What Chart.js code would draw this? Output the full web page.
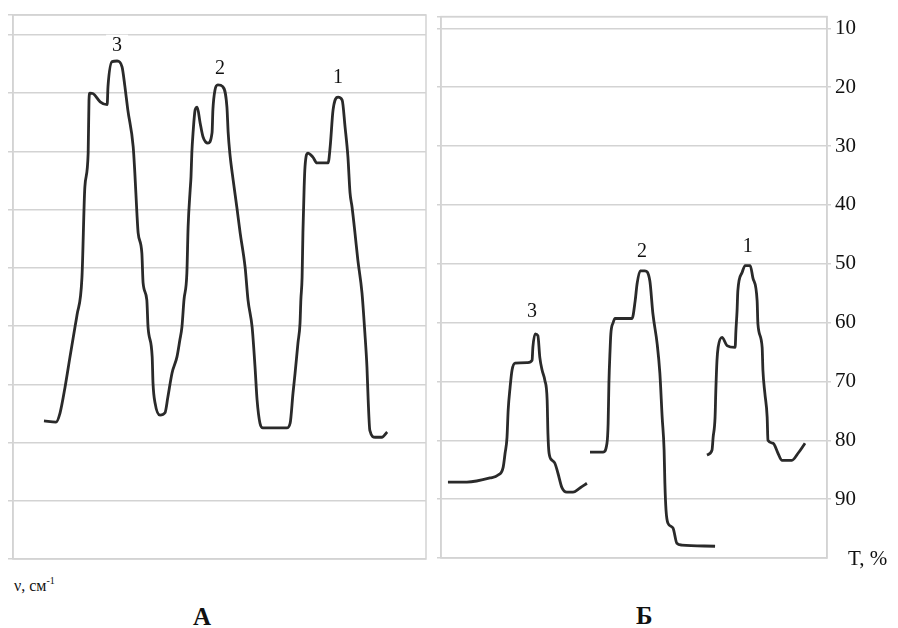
<!DOCTYPE html>
<html>
<head>
<meta charset="utf-8">
<script src="https://cdn.jsdelivr.net/npm/chart.js@4.4.1/dist/chart.umd.min.js"></script>
<style>
  body { margin: 0; background: #fff; width: 898px; height: 628px; position: relative; overflow: hidden;
         font-family: "Liberation Serif", serif; color: #111; }
  #boxA { position: absolute; left: 0; top: 0; width: 432px; height: 575px; }
  #boxB { position: absolute; left: 432px; top: 0; width: 466px; height: 575px; }
  .lbl { position: absolute; white-space: nowrap; line-height: 1; }
  sup { font-size: 10px; vertical-align: 7px; }
</style>
</head>
<body>
<div id="boxA"><canvas id="chartA"></canvas></div>
<div id="boxB"><canvas id="chartB"></canvas></div>
<div class="lbl" style="left:14px;top:576px;font-size:16px;">ν, см<sup>-1</sup></div>
<div class="lbl" style="left:848px;top:548px;font-size:21px;">T, %</div>
<div class="lbl" style="left:193px;top:604px;font-size:25px;font-weight:bold;">А</div>
<div class="lbl" style="left:636px;top:603px;font-size:25px;font-weight:bold;">Б</div>
<script>
// panel A: one continuous trace (wavenumber in arbitrary units, transmittance %)
const nuA = [7.5,10.4,11.4,12.6,13.8,15.0,15.5,16.7,17.4,18.2,18.4,18.6,19.4,21.1,22.8,23.0,24.0,25.2,26.4,27.1,
  27.8,29.1,29.5,30.0,30.3,31.2,31.5,32.4,32.7,33.7,33.9,34.4,35.6,36.8,37.5,38.5,39.7,40.4,40.9,41.4,
  42.1,42.4,42.9,43.1,43.3,43.6,44.1,44.6,45.3,46.0,47.2,48.2,48.4,48.9,49.6,50.8,51.8,52.1,52.5,53.3,
  54.2,55.0,56.2,56.9,57.9,58.6,59.1,59.8,60.5,66.3,67.1,67.8,68.3,69.0,69.5,69.7,70.0,70.2,70.5,70.7,
  71.4,72.6,73.6,76.3,76.8,77.5,78.7,79.7,80.4,81.1,81.6,82.1,82.8,83.5,84.5,85.2,85.7,86.0,86.4,87.7,
  89.3,90.6];
const tA = [76.3,76.5,74.9,70.5,65.3,60.2,58.1,51.6,36.1,30.3,21.2,20.0,20.1,21.5,22.0,18.9,14.6,14.5,15.5,18.9,
  22.9,29.2,33.7,40.6,44.0,47.5,52.6,55.5,60.2,65.3,69.8,73.2,75.3,74.9,72.2,68.1,65.3,62.4,60.2,55.5,
  50.9,43.0,36.6,34.4,30.3,26.8,22.9,22.4,25.1,27.5,28.6,26.8,22.9,19.5,18.6,18.9,22.4,26.8,30.3,34.9,
  39.6,44.0,49.9,55.5,60.2,67.0,72.7,76.7,77.5,77.5,76.7,71.5,68.1,62.9,59.5,55.5,51.6,44.0,36.1,32.7,
  30.3,31.0,32.0,32.0,29.2,22.9,20.7,21.2,25.8,31.0,37.1,39.6,44.0,48.7,54.3,61.2,67.0,72.7,77.9,79.1,
  79.1,78.2];

// panel Б: three separate traces
const nuB3 = [1.8,6.7,12.7,14.8,16.1,16.6,17.1,17.4,17.9,18.4,19.2,22.5,23.6,23.8,24.4,25.1,25.6,26.2,26.9,27.5,
  27.7,28.0,28.8,29.5,30.3,31.3,32.6,34.2,36.0,37.8];
const tB3 = [87.1,87.1,86.4,85.9,84.6,82.2,79.5,74.9,71.0,68.1,66.9,66.8,66.4,64.2,61.9,62.2,65.9,68.1,69.8,73.2,
  78.8,82.2,83.4,83.9,85.6,88.0,88.8,88.8,88.1,87.3];
const nuB2 = [38.6,42.0,43.0,43.3,43.5,43.8,44.0,44.6,45.1,49.5,50.3,50.8,51.6,52.8,54.1,54.9,56.0,56.7,57.3,57.8,
  58.0,58.3,58.8,60.1,61.1,62.4,71.0];
const tB2 = [82.0,82.0,80.5,77.1,70.3,64.7,61.9,60.0,59.3,59.3,56.3,53.4,51.2,51.2,52.9,58.5,63.6,68.6,76.1,81.7,
  87.3,91.9,94.1,94.9,97.5,97.8,98.0];
const nuB1 = [68.9,70.2,70.5,71.0,71.2,71.5,71.8,72.8,74.1,76.2,76.4,76.7,76.9,78.0,78.8,80.1,80.8,81.9,82.1,83.2,
  83.4,83.9,84.5,84.7,86.0,87.3,88.3,90.9,92.5,94.3];
const tB1 = [82.5,81.7,79.5,76.1,71.5,66.4,64.2,62.5,63.9,64.2,61.4,58.0,54.6,51.5,50.3,50.3,52.4,56.3,60.2,64.2,
  68.1,72.0,76.1,80.0,80.5,82.2,83.4,83.4,82.2,80.5];

// peak numbers and where they sit
const peakNames = ['3', '2', '1'];
const peakNuA = [25.2, 50.1, 78.7];
const peakTA = [11.7, 15.7, 17.2];
const peakNuB = [23.6, 52.1, 79.5];
const peakTB = [58.0, 47.8, 46.9];

const tTicks = [10, 20, 30, 40, 50, 60, 70, 80, 90];

const gridColor = '#d3d3d3';
const lineColor = '#2a2a2a';

function pts(xs, ys) {
  return xs.map((x, i) => ({ x: x, y: ys[i] }));
}

function trace(xs, ys) {
  return {
    data: pts(xs, ys),
    borderColor: lineColor,
    borderWidth: 2.8,
    pointRadius: 0,
    cubicInterpolationMode: 'monotone',
    fill: false
  };
}

// light frame round the plot area
const frame = {
  id: 'frame',
  beforeDatasetsDraw(chart) {
    const a = chart.chartArea, ctx = chart.ctx;
    ctx.save();
    ctx.strokeStyle = gridColor;
    ctx.lineWidth = 1.5;
    ctx.strokeRect(a.left, a.top, a.right - a.left, a.bottom - a.top);
    ctx.restore();
  }
};

// numbers over the peaks, with a white patch that breaks the grid line
const peakText = {
  id: 'peakText',
  beforeDatasetsDraw(chart, args, opts) {
    const ctx = chart.ctx, x = chart.scales.x, y = chart.scales.y;
    ctx.save();
    ctx.font = '20px "Liberation Serif"';
    ctx.textAlign = 'center';
    ctx.textBaseline = 'middle';
    opts.names.forEach((n, i) => {
      const px = x.getPixelForValue(opts.nu[i]);
      const py = y.getPixelForValue(opts.t[i]);
      ctx.fillStyle = '#fff';
      ctx.fillRect(px - 11, py - 10, 22, 20);
      ctx.fillStyle = '#111';
      ctx.fillText(n, px, py + 1);
    });
    ctx.restore();
  }
};

new Chart(document.getElementById('chartA'), {
  type: 'line',
  data: { datasets: [trace(nuA, tA)] },
  plugins: [frame, peakText],
  options: {
    responsive: true,
    maintainAspectRatio: false,
    animation: false,
    layout: { padding: { left: 8, top: 15, right: 6, bottom: 16 } },
    plugins: {
      legend: { display: false },
      tooltip: { enabled: false },
      peakText: { names: peakNames, nu: peakNuA, t: peakTA }
    },
    scales: {
      x: { type: 'linear', min: 0, max: 100, display: false },
      y: {
        type: 'linear', reverse: true, min: 6.6, max: 100,
        ticks: { display: false, stepSize: 10 },
        grid: { color: gridColor, lineWidth: 1.5, tickLength: 5 },
        border: { color: gridColor, width: 1.5 }
      }
    }
  }
});

new Chart(document.getElementById('chartB'), {
  type: 'line',
  data: { datasets: [trace(nuB3, tB3), trace(nuB2, tB2), trace(nuB1, tB1)] },
  plugins: [frame, peakText],
  options: {
    responsive: true,
    maintainAspectRatio: false,
    animation: false,
    layout: { padding: { left: 5, top: 15, right: 38, bottom: 17 } },
    plugins: {
      legend: { display: false },
      tooltip: { enabled: false },
      peakText: { names: peakNames, nu: peakNuB, t: peakTB }
    },
    scales: {
      x: { type: 'linear', min: 0, max: 100, display: false },
      y: {
        type: 'linear', position: 'left', reverse: true, min: 8, max: 100,
        ticks: { display: false, stepSize: 10 },
        grid: { color: gridColor, lineWidth: 1.5, tickLength: 4 },
        border: { color: gridColor, width: 1.5 }
      },
      yR: {
        type: 'linear', position: 'right', reverse: true, min: 8, max: 100,
        afterBuildTicks: s => { s.ticks = tTicks.map(v => ({ value: v })); },
        ticks: { color: '#111', padding: 4, font: { family: 'Liberation Serif', size: 21 } },
        grid: { drawOnChartArea: false, color: gridColor, lineWidth: 1.5, tickLength: 4 },
        border: { color: gridColor, width: 1.5 }
      }
    }
  }
});
</script>
</body>
</html>
